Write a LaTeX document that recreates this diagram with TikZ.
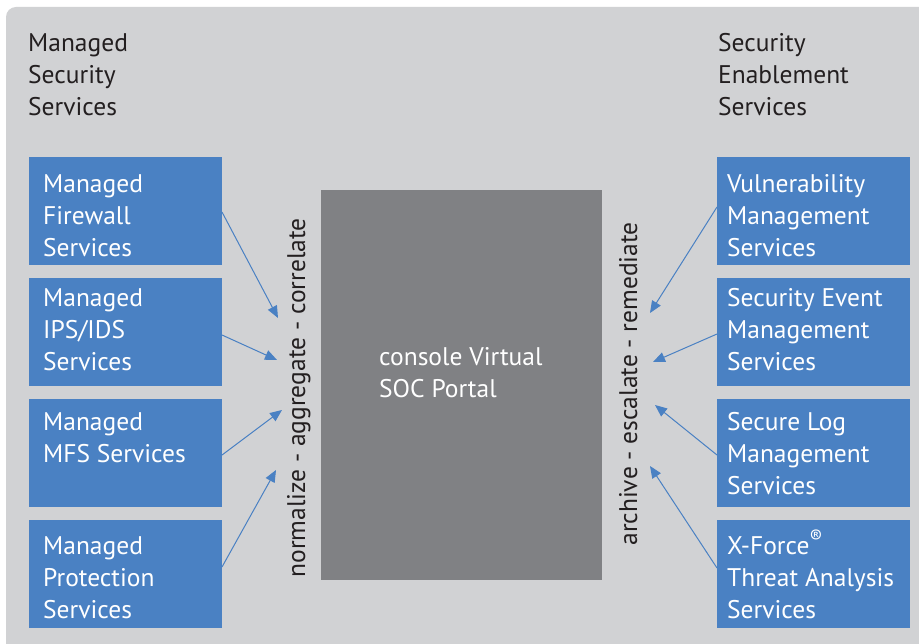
\documentclass[tikz,border=0pt]{standalone}
\usepackage{fontspec}
\setmainfont{PT Sans}
\usetikzlibrary{arrows.meta}
\definecolor{bgray}{HTML}{D1D2D4}
\definecolor{sblue}{HTML}{4A81C3}
\definecolor{dgray}{HTML}{808184}
\definecolor{ink}{HTML}{231F20}
\tikzset{
  sbox/.style={fill=sblue, draw=none, minimum width=193pt, minimum height=108pt, inner sep=0pt, outer sep=0pt, anchor=north west},
  btxt/.style={anchor=base west, inner sep=0pt, text=white, font=\fontsize{25.5}{32}\selectfont},
  htxt/.style={anchor=base west, inner sep=0pt, text=ink, font=\fontsize{25.5}{32}\selectfont},
  rtxt/.style={anchor=base, inner sep=0pt, text=ink, rotate=90, font=\fontsize{25.5}{32}\selectfont},
  link/.style={draw=sblue, line width=1pt, -{Triangle[length=12pt,width=10pt]}},
}
\newcommand{\lines}[1]{\parbox[t]{200pt}{\raggedright #1}}
\newcommand{\regmark}{\raisebox{0.42em}{\fontsize{19}{19}\selectfont\textregistered}}
\begin{document}
\begin{tikzpicture}[x=1pt,y=-1pt]
\useasboundingbox (0,0) rectangle (919,644);
\fill[white] (0,0) rectangle (919,644);
\fill[bgray, rounded corners=10pt] (6,7) rectangle (935,660);
% headers
\node[htxt] (hl) at (28,52) {\lines{Managed\\Security\\Services}};
\node[htxt] (hr) at (718,52) {\lines{Security\\Enablement\\Services}};
% centre
\node[fill=dgray, minimum width=281pt, minimum height=390pt, inner sep=0pt, anchor=north west] (soc) at (321,190) {};
\node[btxt] (soct) at (379,366) {\lines{console Virtual\\SOC Portal}};
% rotated labels
\node[rtxt] (nac) at (305,398) {normalize - aggregate - correlate};
\node[rtxt] (aer) at (637,384) {archive - escalate - remediate};
% left boxes
\node[sbox] (l1) at (29,157) {};
\node[sbox] (l2) at (29,278) {};
\node[sbox] (l3) at (29,399) {};
\node[sbox] (l4) at (29,520) {};
\node[btxt] (l1t) at (43,193) {\lines{Managed\\Firewall\\Services}};
\node[btxt] (l2t) at (43,307) {\lines{Managed\\IPS/IDS\\Services}};
\node[btxt] (l3t) at (43,431) {\lines{Managed\\MFS Services}};
\node[btxt] (l4t) at (43,554) {\lines{Managed\\Protection\\Services}};
% right boxes
\node[sbox] (r1) at (717,157) {};
\node[sbox] (r2) at (717,278) {};
\node[sbox] (r3) at (717,399) {};
\node[sbox] (r4) at (717,520) {};
\node[btxt] (r1t) at (727,193) {\lines{Vulnerability\\Management\\Services}};
\node[btxt] (r2t) at (727,307) {\lines{Security Event\\Management\\Services}};
\node[btxt] (r3t) at (727,431) {\lines{Secure Log\\Management\\Services}};
\node[btxt] (r4t) at (727,554) {\lines{X-Force\regmark\\Threat Analysis\\Services}};
% arrow coordinates
\coordinate (ls1) at (222,212); \coordinate (lt1) at (278,318);
\coordinate (ls2) at (222,335); \coordinate (lt2) at (277,360);
\coordinate (ls3) at (222,455); \coordinate (lt3) at (282,410);
\coordinate (ls4) at (222,567); \coordinate (lt4) at (276,470);
\coordinate (rs1) at (717,207); \coordinate (rt1) at (650,313);
\coordinate (rs2) at (717,334); \coordinate (rt2) at (653,362);
\coordinate (rs3) at (717,455); \coordinate (rt3) at (655,405);
\coordinate (rs4) at (717,568); \coordinate (rt4) at (650,466);
\foreach \i in {1,2,3,4} {
  \draw[link] (ls\i) -- (lt\i);
  \draw[link] (rs\i) -- (rt\i);
}
\end{tikzpicture}
\end{document}
